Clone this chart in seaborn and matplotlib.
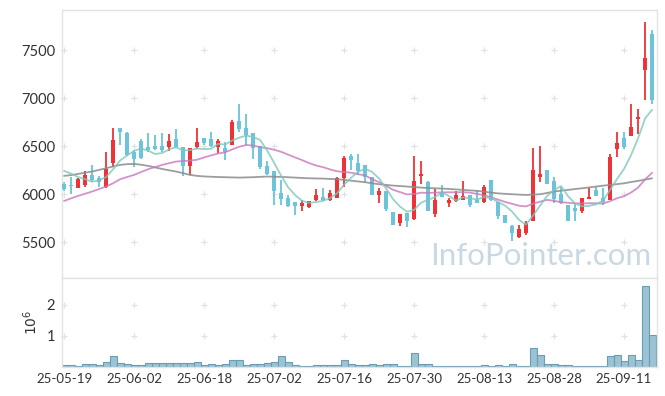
import numpy as np
import pandas as pd
import matplotlib
matplotlib.use("Agg")
import matplotlib.pyplot as plt
import seaborn as sns

# daily OHLC, 2025-05-19 .. 2025-09-17 (trading days)
opens = [6105, 6098, 6070, 6098, 6198, 6171, 6077, 6330, 6687, 6642,
         6441, 6556, 6497, 6504, 6504, 6497, 6576, 6490, 6296, 6497,
         6590, 6576, 6497, 6483, 6514, 6760, 6691, 6635, 6504, 6296,
         6244, 6015, 5963, 5921, 5883, 5873, 5942, 5973, 5942, 5966,
         6174, 6403, 6330, 6306, 6178, 5994, 6039, 5821, 5706, 5810,
         5744, 6195, 6129, 5800, 6022, 5914, 5931, 5942, 5991, 5942,
         5925, 6150, 5925, 5786, 5671, 5560, 5602, 5727, 6185, 6254,
         6140, 6004, 5890, 5862, 5831, 5952, 6046, 5959, 5942, 6469,
         6583, 6611, 6788, 7294, 7668]
highs = [6125, 6178, 6167, 6247, 6302, 6192, 6445, 6687, 6687, 6650,
         6460, 6573, 6635, 6618, 6635, 6625, 6677, 6490, 6486, 6687,
         6590, 6646, 6573, 6549, 6774, 6937, 6833, 6642, 6504, 6348,
         6244, 6150, 5995, 5921, 5942, 5935, 6053, 6063, 6046, 6185,
         6400, 6420, 6417, 6306, 6178, 6063, 6039, 5821, 5796, 5810,
         6400, 6348, 6140, 6053, 6098, 5966, 6039, 6140, 5991, 6046,
         6095, 6150, 5925, 5786, 5682, 5682, 5727, 6479, 6504, 6254,
         6185, 6081, 5890, 5907, 5959, 6063, 6074, 6063, 6420, 6653,
         6653, 6937, 6885, 7797, 7710]
lows = [6030, 6004, 6063, 6081, 6129, 6081, 6070, 6289, 6514, 6395,
        6289, 6365, 6445, 6462, 6445, 6455, 6480, 6192, 6202, 6470,
        6514, 6497, 6427, 6358, 6514, 6653, 6514, 6365, 6261, 6202,
        5890, 5890, 5873, 5786, 5824, 5855, 5935, 5931, 5935, 5959,
        6081, 6254, 6202, 6133, 5994, 5907, 5831, 5685, 5672, 5658,
        5734, 6105, 5831, 5762, 5970, 5873, 5925, 5942, 5866, 5907,
        5907, 5935, 5744, 5699, 5515, 5550, 5578, 5727, 6133, 6105,
        5907, 5897, 5727, 5727, 5803, 5952, 5984, 5890, 5942, 6386,
        6469, 6611, 6628, 6982, 6940]
closes = [6056, 6091, 6160, 6198, 6150, 6126, 6264, 6566, 6653, 6410,
          6368, 6383, 6462, 6472, 6462, 6556, 6497, 6296, 6486, 6545,
          6531, 6507, 6556, 6445, 6757, 6680, 6618, 6486, 6289, 6212,
          6039, 5952, 5880, 5880, 5911, 5935, 5994, 5942, 6018, 6167,
          6379, 6358, 6247, 6185, 5994, 6039, 5845, 5685, 5796, 5727,
          6140, 6216, 5831, 5942, 5977, 5942, 5994, 5984, 5894, 5914,
          6074, 5942, 5779, 5706, 5602, 5640, 5699, 6254, 6213, 6105,
          5952, 5907, 5727, 5831, 5959, 5977, 5984, 5925, 6386, 6531,
          6497, 6698, 6802, 7415, 6982]
volumes = [54000, 54000, 22000, 86000, 86000, 54000, 161000, 344000, 118000, 86000,
           54000, 54000, 118000, 118000, 118000, 118000, 118000, 118000, 118000, 150000,
           54000, 86000, 54000, 86000, 215000, 215000, 54000, 86000, 86000, 118000,
           150000, 344000, 150000, 54000, 22000, 22000, 54000, 54000, 54000, 54000,
           215000, 86000, 54000, 54000, 86000, 54000, 86000, 86000, 22000, 22000,
           452000, 86000, 86000, 22000, 22000, 22000, 22000, 22000, 22000, 22000,
           54000, 22000, 54000, 22000, 86000, 22000, 22000, 602000, 376000, 86000,
           86000, 54000, 54000, 22000, 22000, 22000, 22000, 22000, 344000, 376000,
           183000, 376000, 215000, 2610000, 1030000]

# moving averages before the window is full
ma5_head = [6244, 6215, 6180, 6158]
ma20_head = [5931, 5958, 5984, 6006, 6029, 6055, 6081, 6115, 6157, 6180,
             6202, 6232, 6261, 6284, 6306, 6324, 6341, 6346, 6351]
# long moving average (grey line)
ma_long = [6192, 6200, 6212, 6225, 6237, 6254, 6271, 6290, 6306, 6314,
           6316, 6308, 6296, 6280, 6264, 6250, 6237, 6220, 6202, 6192,
           6186, 6183, 6180, 6178, 6176, 6174, 6176, 6178, 6182, 6185,
           6183, 6181, 6178, 6174, 6170, 6167, 6165, 6164, 6160, 6157,
           6150, 6142, 6134, 6126, 6115, 6105, 6098, 6091, 6086, 6081,
           6076, 6070, 6066, 6063, 6060, 6056, 6051, 6046, 6041, 6036,
           6028, 6018, 6010, 6005, 6001, 5997, 5994, 5997, 6001, 6014,
           6029, 6038, 6046, 6055, 6063, 6072, 6081, 6090, 6098, 6106,
           6115, 6128, 6140, 6153, 6167]

tick_pos = [0, 10, 20, 30, 40, 50, 60, 70, 80]
tick_labels = ["25-05-19", "25-06-02", "25-06-18", "25-07-02", "25-07-16",
               "25-07-30", "25-08-13", "25-08-28", "25-09-11"]
price_ticks = [5500, 6000, 6500, 7000, 7500]
vol_ticks = [1, 2]

UP = "#ee3338"
DOWN = "#6cc3da"
GRID = "#e2e2e2"
SPINE = "#e3e3e3"

sns.set_style("white")
plt.rcParams["font.family"] = ["Lato", "DejaVu Sans"]

df = pd.DataFrame({"day": np.arange(len(closes)), "open": opens, "high": highs,
                   "low": lows, "close": closes, "volume": volumes})
df["ma5"] = df["close"].rolling(5).mean()
df.loc[:3, "ma5"] = ma5_head
df["ma20"] = df["close"].rolling(20).mean()
df.loc[:18, "ma20"] = ma20_head
df["ma_long"] = ma_long

fig = plt.figure(figsize=(6.65, 3.96), dpi=100)
ax = fig.add_axes([0.0932, 0.298, 0.8947, 0.677])
axv = fig.add_axes([0.0932, 0.0732, 0.8947, 0.2247], sharex=ax)

# grid drawn as small crosses at tick intersections
for a, yt in ((ax, price_ticks), (axv, vol_ticks)):
    xx, yy = np.meshgrid(tick_pos, yt)
    a.plot(xx.ravel(), yy.ravel(), ls="none", marker="+", ms=4.5, mew=0.9,
           color=GRID, zorder=0, clip_on=False)

# candles
up = df["close"] >= df["open"]
cols = np.where(up, UP, DOWN)
body_lo = np.minimum(df["open"], df["close"])
body_h = np.maximum((df["close"] - df["open"]).abs(), 8)
ax.vlines(df["day"], df["low"], df["high"], colors=cols, lw=1.3, zorder=2)
ax.bar(df["day"], body_h, bottom=body_lo, width=0.68, color=cols,
       linewidth=0, edgecolor="none", zorder=3)

# moving averages
sns.lineplot(data=df, x="day", y="ma_long", ax=ax, color="#8c8c8c", lw=1.3, alpha=0.85, zorder=4)
sns.lineplot(data=df, x="day", y="ma20", ax=ax, color="#c878bd", lw=1.3, alpha=0.8, zorder=4)
sns.lineplot(data=df, x="day", y="ma5", ax=ax, color="#7cc8bb", lw=1.3, alpha=0.8, zorder=5)

ax.text(0.99, 0.03, "InfoPointer.com", transform=ax.transAxes, ha="right", va="bottom",
        fontsize=22.5, color="#c9d9e3", zorder=1)

# volume
axv.bar(df["day"], df["volume"] / 1e6, width=1.0, color="#9cc3d3",
        edgecolor="#6a9db5", linewidth=0.8, zorder=2)

ax.set_xlim(-0.3, 84.7)
ax.set_ylim(5130, 7918)
axv.set_ylim(0, 2.85)

ax.set_yticks(price_ticks)
ax.set_yticklabels([str(v) for v in price_ticks])
axv.set_yticks(vol_ticks)
axv.set_yticklabels([str(v) for v in vol_ticks])
axv.set_xticks(tick_pos)
axv.set_xticklabels(tick_labels)
ax.tick_params(axis="x", labelbottom=False)

for a in (ax, axv):
    a.set_xlabel("")
    a.set_ylabel("")
    a.tick_params(length=0, colors="#333333", pad=5)
    for s in a.spines.values():
        s.set_color(SPINE)
        s.set_linewidth(1)
ax.tick_params(axis="y", labelsize=10.5)
axv.tick_params(axis="y", labelsize=10.5)
axv.tick_params(axis="x", labelsize=9.5, pad=4)
axv.set_ylabel(r"$10^6$", fontsize=10, color="#333333", labelpad=5)

fig.savefig("out.png", dpi=100)
plt.close(fig)
